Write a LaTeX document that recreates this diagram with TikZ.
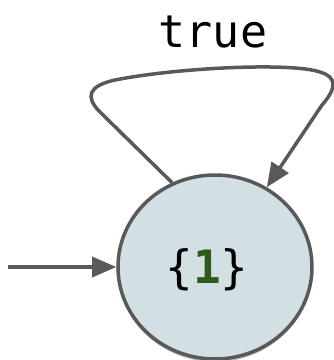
\documentclass[tikz,border=0pt]{standalone}
\usepackage{fontspec}
\newfontfamily\monofont{DejaVu Sans Mono}
\usetikzlibrary{arrows.meta,shadows,shapes.geometric}
\definecolor{edgegray}{HTML}{595959}
\definecolor{statefill}{HTML}{D2E0E4}
\definecolor{onegreen}{HTML}{2B5A1C}
\tikzset{
  statenode/.style={ellipse, draw=edgegray, line width=3.5pt, fill=statefill,
    minimum width=194pt, minimum height=184pt, inner sep=0pt,
    drop shadow={shadow xshift=0pt, shadow yshift=-3pt, opacity=0.25, fill=black}},
  statetext/.style={font=\monofont\fontsize{46}{50}\selectfont, inner sep=0pt},
  trans/.style={draw=edgegray, line width=3.5pt, -{Triangle[length=24pt,width=20pt]}},
  lbl/.style={font=\monofont\fontsize{45}{50}\selectfont, inner sep=0pt}
}
\begin{document}
\begin{tikzpicture}[x=1pt,y=-1pt]
\useasboundingbox (0,0) rectangle (334,360);
\node[statenode] (s) at (215,267) {};
\node[statetext] (st) at (207,270) {\{\textcolor{onegreen}{\textbf{1}}\}};
\coordinate (init) at (8,267);
\draw[trans] (init) -- (s.west);
\draw[trans] (s.117) -- (100,112) .. controls (85,97) and (88,86) .. (115,80)
  .. controls (175,68) and (290,62) .. (320,72)
  .. controls (337,77) and (337,88) .. (322,105) -- (s.57);
\node[lbl, anchor=base] (t) at (213,47) {true};
\end{tikzpicture}
\end{document}
